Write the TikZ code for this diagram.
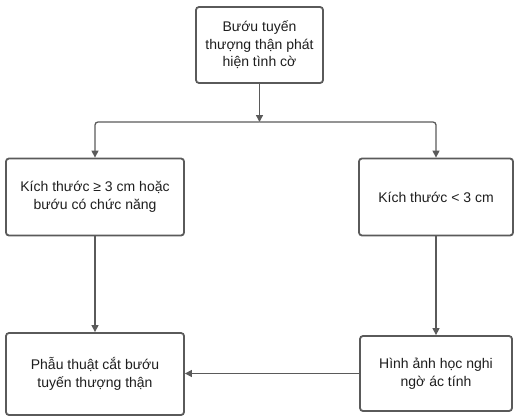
\documentclass[tikz,border=0pt]{standalone}
\usepackage{fontspec}
\setmainfont{Liberation Sans}
\usetikzlibrary{arrows.meta}
\definecolor{lineg}{HTML}{5A5A5A}
\definecolor{txtg}{HTML}{1E1E1E}
\tikzset{
  box/.style={draw=lineg, line width=1.8pt, rounded corners=3pt, fill=white,
    align=center, text=txtg, inner sep=0pt,
    font=\fontsize{14}{17.5}\selectfont},
  conn/.style={draw=lineg, line width=1.3pt, -{Triangle[length=7pt,width=7pt]}},
}
\begin{document}
\begin{tikzpicture}[x=1pt,y=-1pt]
\useasboundingbox (0,0) rectangle (521,417);
\node[box, minimum width=127pt, minimum height=76pt] (top) at (259.5,45) {Bướu tuyến\\thượng thận phát\\hiện tình cờ};
\node[box, minimum width=178pt, minimum height=77pt] (ml) at (95,197) {Kích thước ≥ 3 cm hoặc\\bướu có chức năng};
\node[box, minimum width=154pt, minimum height=77pt] (mr) at (436,197) {Kích thước < 3 cm};
\node[box, minimum width=178pt, minimum height=82pt] (bl) at (95,374) {Phẫu thuật cắt bướu\\tuyến thượng thận};
\node[box, minimum width=152pt, minimum height=75pt] (br) at (436,373.5) {Hình ảnh học nghi\\ngờ ác tính};
\coordinate (j) at (259.5,122);
\draw[conn] (top) -- (j);
\draw[conn, rounded corners=3pt] (j) -| (ml);
\draw[conn, rounded corners=3pt] (j) -| (mr);
\draw[conn] (ml) -- (bl);
\draw[conn] (mr) -- (br);
\draw[conn] (br) -- (br -| bl.east);
\end{tikzpicture}
\end{document}
